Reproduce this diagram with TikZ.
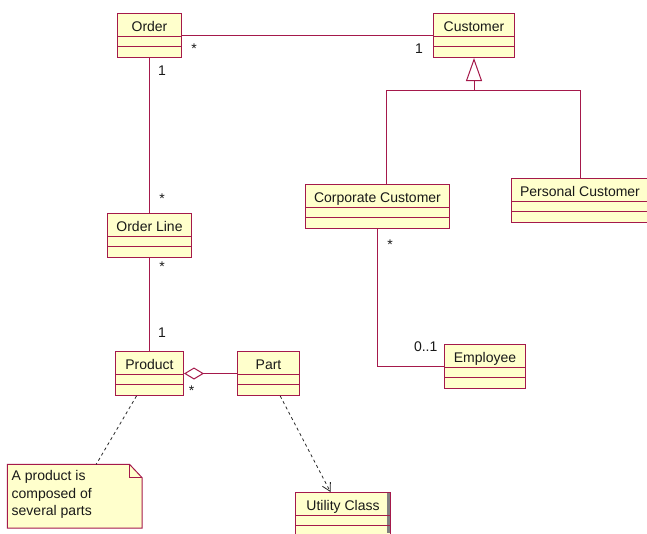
\documentclass[tikz,border=0pt]{standalone}
\usepackage{fontspec}
\setmainfont{Liberation Sans}
\usetikzlibrary{arrows.meta}
\definecolor{umlred}{RGB}{165,25,75}
\definecolor{umlfill}{RGB}{255,255,204}
\newcommand{\umlclass}[5]{%
  \node[cls, minimum width={(#4)-(#2)}] (#1) at (#2,#3) {};
  \node[clstitle] (#1-t) at ([yshift=-18.5pt]#1.north) {#5};
  \draw[divline] ([yshift=-23.5pt]#1.north west) -- ([yshift=-23.5pt]#1.north east);
  \draw[divline] ([yshift=-33pt]#1.north west) -- ([yshift=-33pt]#1.north east);
}
\begin{document}
\begin{tikzpicture}[x=1pt,y=-1pt,
  font=\fontsize{14}{17}\selectfont,
  cls/.style={draw=umlred, fill=umlfill, line width=1pt, minimum height=44pt, inner sep=0pt, anchor=north west},
  clstitle/.style={anchor=base, inner sep=0pt, text=black!90},
  divline/.style={draw=umlred, line width=1pt},
  conn/.style={draw=umlred, line width=1pt},
  dep/.style={draw=black!85, line width=0.8pt, dash pattern=on 3pt off 3pt},
  mult/.style={inner sep=0pt, text=black!90},
  notebox/.style={draw=umlred, fill=umlfill, line width=1pt}]
\clip (0,0) rectangle (647,533);
\fill[white] (0,0) rectangle (647,533);
% classes
\umlclass{order}{117}{13}{181}{Order}
\umlclass{cust}{433}{13}{514}{Customer}
\umlclass{corp}{305}{184}{449}{Corporate Customer}
\umlclass{pers}{511}{178}{648}{Personal Customer}
\umlclass{oline}{107}{213}{191}{Order Line}
\umlclass{prod}{115}{351}{183}{Product}
\umlclass{part}{237}{351}{299}{Part}
\umlclass{emp}{444}{344}{525}{Employee}
\umlclass{util}{295}{492}{390}{Utility Class}
\fill[gray] (386.5,493) rectangle (389.5,533);
\draw[divline] ([yshift=-23.5pt]util.north west) -- ([yshift=-23.5pt]util.north east);
\draw[divline] ([yshift=-33pt]util.north west) -- ([yshift=-33pt]util.north east);
% note
\node[anchor=north west, minimum width=134.4pt, minimum height=63.5pt, inner sep=0pt] (note) at (7.3,464.3) {};
\draw[notebox] (note.north west) -- ([xshift=-12.6pt]note.north east) -- ([yshift=-13.4pt]note.north east) -- (note.south east) -- (note.south west) -- cycle;
\draw[conn] ([xshift=-12.6pt]note.north east) |- ([yshift=-13.4pt]note.north east);
\node[anchor=north west, align=left, inner sep=0pt, text=black!90, font=\fontsize{14}{17.7}\selectfont] (notetext) at (11.5,470) {A product is\\composed of\\several parts};
% associations
\draw[conn] (order.east) -- (cust.west);
\node[mult] (m1) at (194,49) {*};
\node[mult] (m2) at (419,49) {1};
\draw[conn] (order.south) -- (oline.north);
\node[mult] (m3) at (162,71) {1};
\node[mult] (m4) at (162,199) {*};
\draw[conn] (oline.south) -- (prod.north);
\node[mult] (m5) at (162,267) {*};
\node[mult] (m6) at (162,333) {1};
\draw[conn, {Diamond[open,length=20pt,width=12pt]}-] (prod.east) -- (part.west);
\node[mult] (m7) at (191.7,391) {*};
\draw[conn] (corp.south) |- (emp.west);
\node[mult] (m8) at (390,244.7) {*};
\node[mult] (m9) at (425.7,346.7) {0..1};
% generalization
\coordinate (genJ) at (474,90);
\draw[conn] ([xshift=8.5pt]corp.north) |- (genJ);
\draw[conn] (pers.north) |- (genJ);
\draw[conn, -{Triangle[open, fill=white, length=23pt, width=16pt]}] (genJ) -- (cust.south);
% dashed
\draw[dep] ([xshift=-13pt]prod.south) -- ([xshift=21.5pt]note.north);
\draw[dep, -{Straight Barb[length=8pt,width=9pt]}] ([xshift=11.7pt]part.south) -- ([xshift=-12.5pt]util.north);
\end{tikzpicture}
\end{document}
